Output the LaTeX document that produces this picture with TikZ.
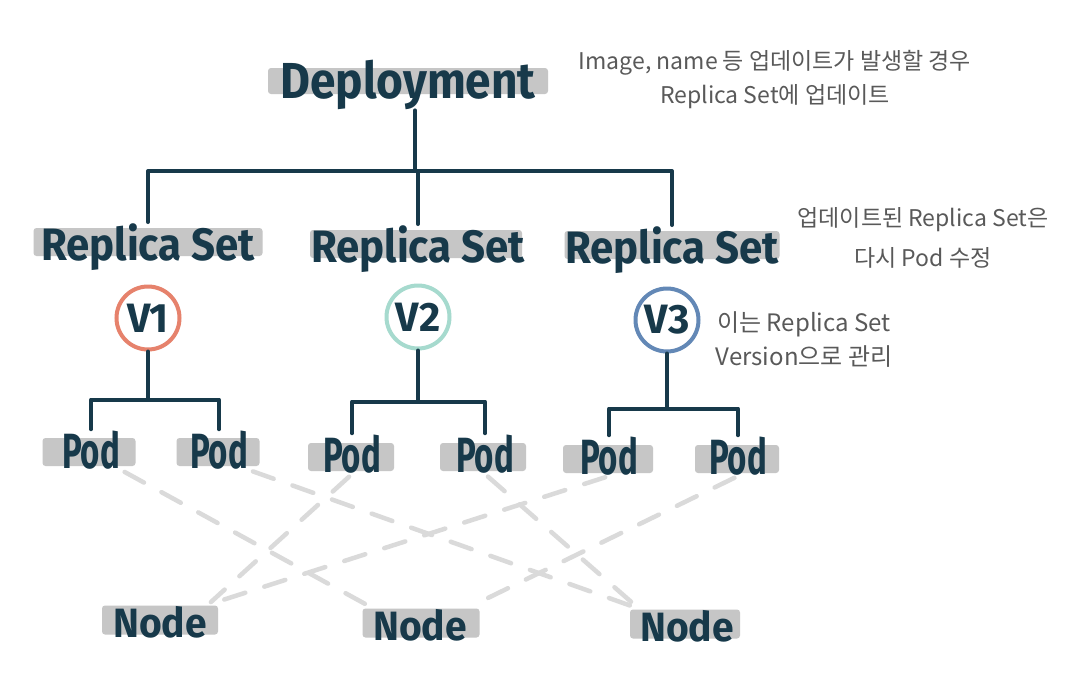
\documentclass[tikz,border=0pt]{standalone}
\usepackage{fontspec}
\setmainfont{Fira Sans}
\newfontfamily\krfont{Noto Sans CJK KR}
\usetikzlibrary{positioning,calc}
\definecolor{depNavy}{HTML}{17394A}
\definecolor{barGray}{HTML}{C6C6C6}
\definecolor{noteGray}{HTML}{595959}
\definecolor{dashGray}{HTML}{DADADA}
\definecolor{verOne}{HTML}{E6826C}
\definecolor{verTwo}{HTML}{A6DACE}
\definecolor{verThree}{HTML}{6388B6}
\newcommand\tallText[2]{\scalebox{1}[#1]{#2}}

\begin{document}
\begin{tikzpicture}[x=1pt,y=-1pt,
  bar/.style={fill=barGray,rounded corners=3pt,inner sep=0pt},
  lbl/.style={text=depNavy,inner sep=1pt,anchor=base,font=\fontsize{#1}{#1}\selectfont\bfseries},
  link/.style={depNavy,line width=4pt,line cap=round,line join=round},
  ver/.style={circle,draw=#1,line width=4pt,fill=white,minimum size=63pt,inner sep=0pt,
    text=depNavy,font=\fontsize{41}{41}\selectfont\bfseries},
  wire/.style={dashGray,line width=4.5pt,line cap=round,dash pattern=on 22pt off 20pt,
    shorten <=4pt,shorten >=4pt},
  note/.style={text=noteGray,font=\krfont\fontsize{23}{34}\selectfont,align=center}]
\useasboundingbox[fill=white] (0,0) rectangle (1088,686);

% top of the tree
\node[bar,minimum width=280pt,minimum height=26pt] (depbar) at (408,81) {};
\node[lbl=46] (dep) at (408,98) {\tallText{1.1}{Deployment}};

% replica sets and versions
\foreach \n/\bx/\by/\bw/\tx/\ty in {1/148/242/229/148/260,2/416/244/212/418/262,3/672/245/215/672/263}{
  \node[bar,minimum width=\bw pt,minimum height=28pt] (rsbar\n) at (\bx,\by) {};
  \node[lbl=42] (rs\n) at (\tx,\ty) {\tallText{1.08}{Replica Set}};
}
\node[ver=verOne] (v1) at (148,318) {V1};
\node[ver=verTwo] (v2) at (418,317) {V2};
\node[ver=verThree] (v3) at (667,320) {V3};

% pods
\foreach \n/\bx/\by/\bw/\tx/\ty in {1/89/452/93/91/468,2/218/452/83/219/468,3/351/457/86/352/472,
    4/483/457/86/485/472,5/608/459/90/609/474,6/737/459/84/738/474}{
  \node[bar,minimum width=\bw pt,minimum height=28pt] (podbar\n) at (\bx,\by) {};
  \node[lbl=33] (p\n) at (\tx,\ty) {\tallText{1.5}{Pod}};
}

% nodes
\foreach \n/\bx/\by/\bw/\tx/\ty in {1/160/620/116/160/637,2/421/623/117/420/640,3/685/624/110/687/641}{
  \node[bar,minimum width=\bw pt,minimum height=29pt] (nodebar\n) at (\bx,\by) {};
  \node[lbl=39] (n\n) at (\tx,\ty) {\tallText{1.05}{Node}};
}

% tree lines
\coordinate (top) at (415,171);
\draw[link] (top |- dep.south) -- (top);
\draw[link] (rs1.north) |- (top) -| (rs3.north);
\draw[link] (rs2.north) -- (rs2.north |- top);
\foreach \n/\a/\b/\y in {1/1/2/400,2/3/4/403,3/5/6/407}{
  \coordinate (fork\n) at ($(v\n.south)+(0,\y-352)$);
  \draw[link] (v\n.south) -- (fork\n);
  \draw[link] (p\a.north) |- (fork\n) -| (p\b.north);
}

% pods placed on nodes
\foreach \a/\b in {p1.south east/n2.north west,p2.south east/n3.north west,p3.south/n1.north east,
    p4.south/n3.north west,p5.south/n1.north east,p6.south/n2.north east}
  \draw[wire] (\a) -- (\b);

% notes
\node[note] (note1) at (775,80) {Image, name 등 업데이트가 발생할 경우\\Replica Set에 업데이트};
\node[note] (note2) at (923,238) {업데이트된 Replica Set은\\[6pt]다시 Pod 수정};
\node[note,font=\krfont\fontsize{24}{34}\selectfont] (note3) at (804,340) {이는 Replica Set\\Version으로 관리};
\end{tikzpicture}
\end{document}
